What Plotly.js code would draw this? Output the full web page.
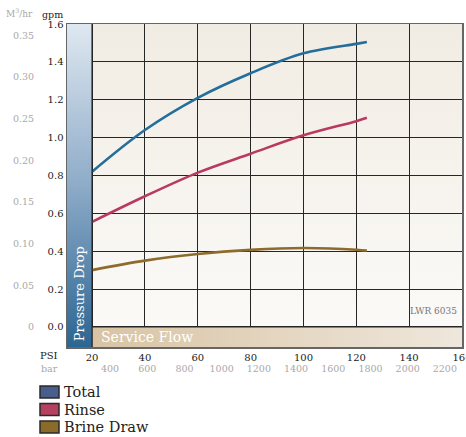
<!DOCTYPE html>
<html>
<head>
<meta charset="utf-8">
<script src="https://cdn.plot.ly/plotly-3.0.1.min.js"></script>
<style>html,body{margin:0;padding:0;background:#fff;}#chart{width:466px;height:437px;}</style>
</head>
<body>
<div id="chart"></div>
<script>
// ---- data ----
var psi = [20, 40, 60, 80, 100, 120, 124];
var totalFlow = [0.82, 1.04, 1.21, 1.34, 1.445, 1.495, 1.505];
var rinseFlow = [0.555, 0.69, 0.815, 0.915, 1.012, 1.087, 1.105];
var brineFlow = [0.30, 0.35, 0.385, 0.407, 0.417, 0.408, 0.403];
var seriesNames = ['Total', 'Rinse', 'Brine Draw'];
var gpmTicks = [0, 0.2, 0.4, 0.6, 0.8, 1.0, 1.2, 1.4, 1.6];
var m3Ticks = [0, 0.05, 0.10, 0.15, 0.20, 0.25, 0.30, 0.35];
var m3Labels = ['0', '0.05', '0.10', '0.15', '0.20', '0.25', '0.30', '0.35'];
var psiTicks = [20, 40, 60, 80, 100, 120, 140, 160];
var barTicks = [400, 600, 800, 1000, 1200, 1400, 1600, 1800, 2000, 2200];

var FONT = 'DejaVu Serif, Liberation Serif, serif';
var lineColors = ['#236e9a', '#b83a62', '#8c6b2c'];
var boxColors = ['#475d8b', '#b6405f', '#8b6a2a'];

var W = 466, H = 437, ML = 67, MR = 4, MT = 24, MB = 90;
var PW = W - ML - MR, PH = H - MT - MB;
function px(x){ return (x - ML) / PW; }
function py(y){ return (H - MB - y) / PH; }

var xMin = 10.5, xMax = 160, yMin = -0.106, yMax = 1.6;
var gpmPerM3 = 4.4;
var barPerPsi = 1 / 0.0704; // approximate label scale
var barRange = [400 + (xMin - 26.8) * barPerPsi, 400 + (xMax - 26.8) * barPerPsi];
var m3Range = [yMin / gpmPerM3, yMax / gpmPerM3];

function svgURI(svg){ return 'data:image/svg+xml;charset=utf-8,' + encodeURIComponent(svg); }
var bgSVG = '<svg xmlns="http://www.w3.org/2000/svg" width="100" height="100" preserveAspectRatio="none" viewBox="0 0 100 100"><defs><linearGradient id="g" x1="0" y1="0" x2="0" y2="1"><stop offset="0" stop-color="#f1ece3"/><stop offset="1" stop-color="#fcfbf9"/></linearGradient></defs><rect width="100" height="100" fill="url(#g)"/></svg>';
var blueSVG = '<svg xmlns="http://www.w3.org/2000/svg" width="100" height="100" preserveAspectRatio="none" viewBox="0 0 100 100"><defs><linearGradient id="g" x1="0" y1="0" x2="0" y2="1"><stop offset="0" stop-color="#dfe8f1"/><stop offset="0.5" stop-color="#8eabc8"/><stop offset="1" stop-color="#2b6692"/></linearGradient></defs><rect width="100" height="100" fill="url(#g)"/></svg>';
var tanSVG = '<svg xmlns="http://www.w3.org/2000/svg" width="100" height="100" preserveAspectRatio="none" viewBox="0 0 100 100"><defs><linearGradient id="g" x1="0" y1="0" x2="1" y2="0"><stop offset="0" stop-color="#d8c4a4"/><stop offset="1" stop-color="#efe7dc"/></linearGradient></defs><rect width="100" height="100" fill="url(#g)"/></svg>';

var series = [totalFlow, rinseFlow, brineFlow];
var traces = [];
series.forEach(function(vals, i){
  traces.push({
    type: 'scatter', mode: 'lines', x: psi, y: vals, name: seriesNames[i],
    line: {color: lineColors[i], width: 2.6, shape: 'spline', smoothing: 1},
    showlegend: false, hoverinfo: 'skip'
  });
});
// carrier so the secondary axes are drawn
traces.push({type: 'scatter', mode: 'markers', x: [barTicks[0]], y: [m3Ticks[0]], xaxis: 'x2', yaxis: 'y2',
  marker: {opacity: 0, size: 1}, showlegend: false, hoverinfo: 'skip'});

var shapes = [
  {type: 'line', xref: 'x', yref: 'y', x0: 20, x1: 20, y0: yMin, y1: yMax, line: {color: '#262626', width: 1.3}, layer: 'above'},
  {type: 'line', xref: 'x', yref: 'y', x0: 20, x1: xMax, y0: 0, y1: 0, line: {color: '#262626', width: 1.3}, layer: 'above'}
];
var annotations = [
  {xref: 'x', yref: 'y', x: 15.25, y: yMin + 0.02, text: 'Pressure Drop', textangle: -90, showarrow: false,
   xanchor: 'center', yanchor: 'bottom', font: {family: FONT, size: 13, color: '#ffffff'}},
  {xref: 'x', yref: 'y', x: 22.5, y: -0.053, text: 'Service Flow', showarrow: false,
   xanchor: 'left', yanchor: 'middle', font: {family: FONT, size: 14, color: '#ffffff'}},
  {xref: 'x', yref: 'y', x: 159, y: 0.085, text: 'LWR 6035', showarrow: false,
   xanchor: 'right', yanchor: 'middle', font: {family: FONT, size: 9, color: '#777'}},
  {xref: 'paper', yref: 'paper', x: px(65), y: py(14), text: 'gpm', showarrow: false,
   xanchor: 'right', yanchor: 'middle', font: {family: FONT, size: 9.5, color: '#222'}},
  {xref: 'paper', yref: 'paper', x: px(35), y: py(13), text: 'M<sup>3</sup>/hr', showarrow: false,
   xanchor: 'right', yanchor: 'middle', font: {family: FONT, size: 9, color: '#a8a8a8'}},
  {xref: 'paper', yref: 'paper', x: px(60), y: py(355), text: 'PSI', showarrow: false,
   xanchor: 'right', yanchor: 'middle', font: {family: FONT, size: 10, color: '#222'}},
  {xref: 'paper', yref: 'paper', x: px(60), y: py(368), text: 'bar', showarrow: false,
   xanchor: 'right', yanchor: 'middle', font: {family: FONT, size: 9.5, color: '#a8a8a8'}}
];
// legend drawn as swatches + labels
seriesNames.forEach(function(n, i){
  var top = 386 + i * 17.5;
  shapes.push({type: 'rect', xref: 'paper', yref: 'paper', x0: px(40), x1: px(59), y0: py(top), y1: py(top + 12),
    fillcolor: boxColors[i], line: {color: '#2a2a2a', width: 1.5}, layer: 'above'});
  annotations.push({xref: 'paper', yref: 'paper', x: px(62), y: py(top + 6), text: n, showarrow: false,
    xanchor: 'left', yanchor: 'middle', font: {family: FONT, size: 14.5, color: '#222'}});
});

var layout = {
  width: W, height: H,
  margin: {l: ML, r: MR, t: MT, b: MB},
  paper_bgcolor: '#ffffff',
  plot_bgcolor: 'rgba(0,0,0,0)',
  font: {family: FONT, color: '#222'},
  showlegend: false,
  xaxis: {
    range: [xMin, xMax], tickvals: psiTicks, ticks: '', ticklabeloverflow: 'allow',
    tickfont: {family: FONT, size: 10, color: '#1a1a1a'},
    showgrid: true, gridcolor: '#262626', gridwidth: 1, zeroline: false,
    showline: true, linecolor: '#666', linewidth: 1.5, mirror: true
  },
  xaxis2: {
    overlaying: 'x', anchor: 'free', position: 0, side: 'bottom',
    range: barRange, tickvals: barTicks, ticks: 'outside', ticklen: 13, tickcolor: 'rgba(0,0,0,0)',
    tickfont: {family: FONT, size: 9.5, color: '#a8a8a8'},
    showgrid: false, zeroline: false, showline: false
  },
  yaxis: {
    range: [yMin, yMax], tickvals: gpmTicks, tickformat: '.1f', ticks: '',
    tickfont: {family: FONT, size: 10, color: '#1a1a1a'},
    showgrid: true, gridcolor: '#262626', gridwidth: 1, zeroline: false,
    showline: true, linecolor: '#666', linewidth: 1.5, mirror: true
  },
  yaxis2: {
    overlaying: 'y', anchor: 'free', position: 0, side: 'left',
    range: m3Range, tickvals: m3Ticks, ticktext: m3Labels,
    ticks: 'outside', ticklen: 31, tickcolor: 'rgba(0,0,0,0)',
    tickfont: {family: FONT, size: 9.5, color: '#a8a8a8'},
    showgrid: false, zeroline: false, showline: false
  },
  images: [
    {source: svgURI(bgSVG), xref: 'x', yref: 'y', x: xMin, y: yMax, sizex: xMax - xMin, sizey: yMax - yMin,
     xanchor: 'left', yanchor: 'top', sizing: 'stretch', layer: 'below'},
    {source: svgURI(blueSVG), xref: 'x', yref: 'y', x: xMin, y: yMax, sizex: 20 - xMin, sizey: yMax - yMin,
     xanchor: 'left', yanchor: 'top', sizing: 'stretch', layer: 'above'},
    {source: svgURI(tanSVG), xref: 'x', yref: 'y', x: 20, y: 0, sizex: xMax - 20, sizey: -yMin,
     xanchor: 'left', yanchor: 'top', sizing: 'stretch', layer: 'above'}
  ],
  shapes: shapes,
  annotations: annotations
};

Plotly.newPlot('chart', traces, layout, {displayModeBar: false, staticPlot: true});
</script>
</body>
</html>
